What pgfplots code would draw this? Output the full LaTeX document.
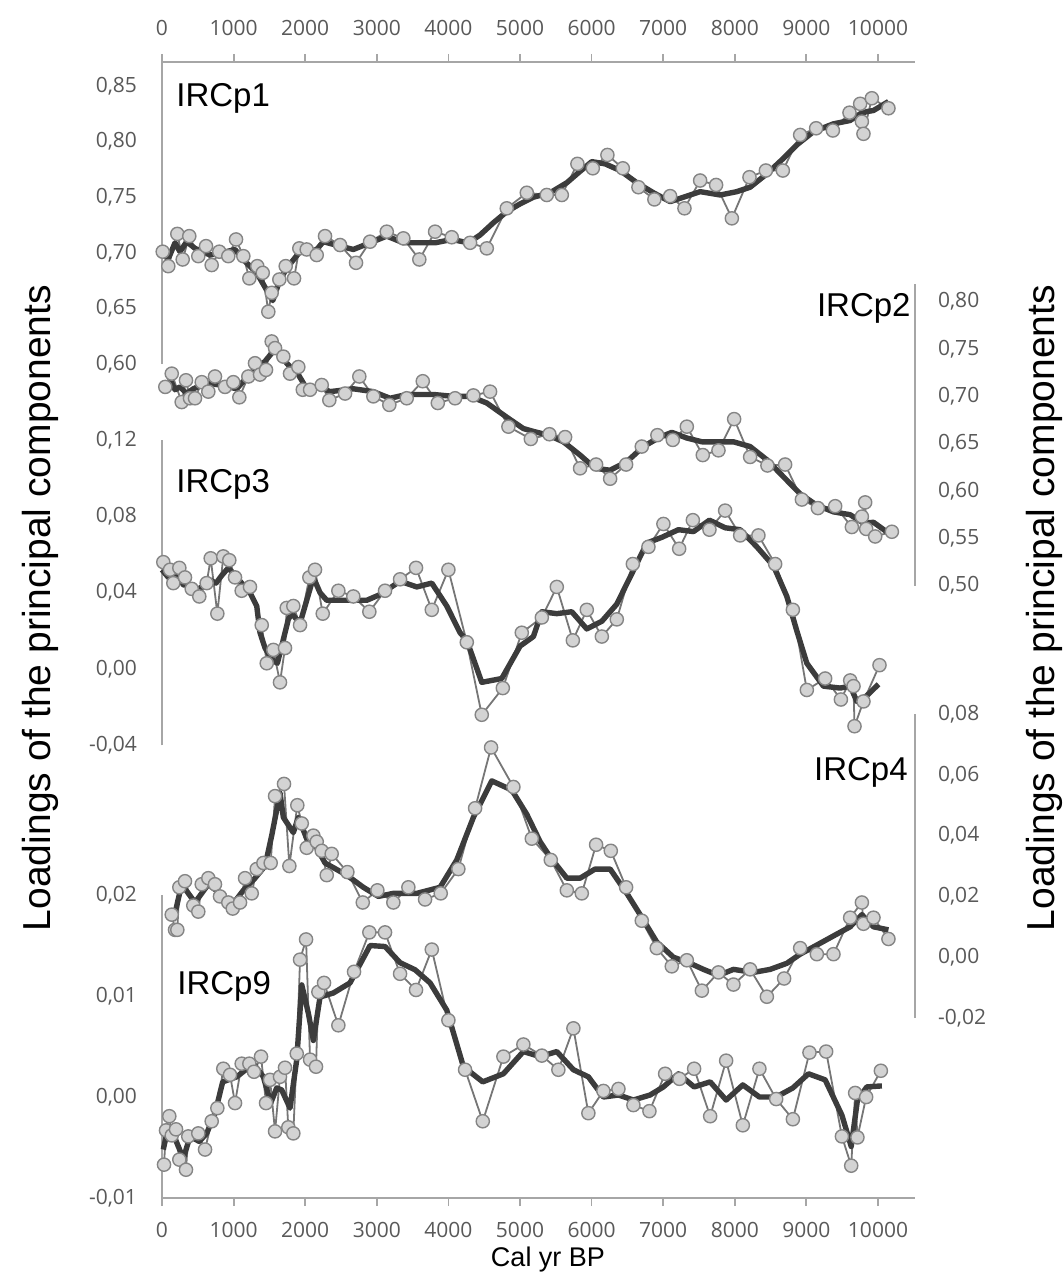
\documentclass[border=0pt]{standalone}
\usepackage{fontspec}
\setmainfont{Liberation Sans}
\newfontfamily\osans{Open Sans}
\usepackage{pgfplots}
\pgfplotsset{compat=1.18}
\definecolor{rawline}{HTML}{767676}
\definecolor{markfill}{HTML}{D3D3D3}
\definecolor{markdraw}{HTML}{858585}
\definecolor{smoothcol}{HTML}{3C3C3C}
\definecolor{axisgray}{HTML}{A6A6A6}
\definecolor{tickgray}{HTML}{595959}

\pgfplotsset{
  panel/.style={
    scale only axis, width=376.5pt, xmin=0, xmax=10517,
    anchor=south west, clip=false, scaled ticks=false,
    axis line style={axisgray, line width=0.9pt},
    tick label style={font=\osans\fontsize{10.5}{12}\selectfont, text=tickgray},
    /pgf/number format/assume math mode=true,
    y tick label style={/pgf/number format/fixed, /pgf/number format/fixed zerofill,
      /pgf/number format/precision=2, /pgf/number format/use comma},
    x tick label style={/pgf/number format/fixed, /pgf/number format/precision=0, /pgf/number format/1000 sep={}},
    ytick style={draw=none},
    xtick style={axisgray, line width=0.9pt},
    tick align=outside, major tick length=4pt,
  },
  rawser/.style={rawline, line width=0.9pt, mark=*, mark size=3.3pt,
    mark options={fill=markfill, draw=markdraw, line width=0.7pt}},
  smoothser/.style={smoothcol, line width=2.7pt, no markers, line join=round},
}

\begin{document}
\begin{tikzpicture}
\useasboundingbox (0,0) rectangle (532pt,-636.5pt);

% ---------- IRCp1 ----------
\begin{axis}[panel, at={(81pt,-182pt)}, height=151pt, ymin=0.60, ymax=0.8716,
  axis x line*=top, axis y line*=left,
  xtick={0,1000,2000,3000,4000,5000,6000,7000,8000,9000,10000},
  ytick={0.60,0.65,0.70,0.75,0.80,0.85},
  xticklabel shift=5.5pt, yticklabel shift=5pt]
\addplot[rawser] coordinates {(10,0.701)(88,0.688)(214,0.717)(289,0.694)(381,0.715)(507,0.697)(615,0.706)(694,0.689)(800,0.701)(926,0.697)(1034,0.712)(1136,0.697)(1220,0.677)(1331,0.688)(1407,0.682)(1485,0.647)(1532,0.664)(1639,0.676)(1728,0.688)(1844,0.677)(1918,0.704)(2021,0.703)(2161,0.698)(2277,0.715)(2487,0.707)(2710,0.691)(2906,0.710)(3139,0.719)(3371,0.713)(3594,0.694)(3814,0.719)(4047,0.714)(4303,0.709)(4536,0.704)(4815,0.740)(5095,0.754)(5374,0.752)(5584,0.752)(5802,0.780)(6017,0.776)(6221,0.788)(6436,0.776)(6654,0.759)(6877,0.748)(7097,0.751)(7297,0.740)(7516,0.765)(7739,0.761)(7959,0.731)(8205,0.768)(8434,0.774)(8671,0.774)(8913,0.806)(9136,0.812)(9370,0.810)(9602,0.826)(9751,0.834)(9775,0.818)(9797,0.807)(9914,0.839)(10146,0.830)};
\addplot[smoothser] coordinates {(10,0.701)(84,0.694)(182,0.709)(251,0.701)(345,0.710)(461,0.704)(671,0.698)(834,0.700)(1020,0.703)(1132,0.694)(1323,0.682)(1439,0.669)(1547,0.657)(1648,0.676)(1764,0.688)(1952,0.703)(2044,0.701)(2161,0.703)(2253,0.710)(2487,0.706)(2672,0.703)(2906,0.709)(3139,0.715)(3371,0.709)(3594,0.709)(3814,0.709)(4047,0.712)(4279,0.709)(4442,0.716)(4628,0.727)(4815,0.737)(5001,0.744)(5187,0.750)(5420,0.754)(5654,0.763)(5816,0.772)(6003,0.782)(6189,0.780)(6398,0.774)(6632,0.763)(6864,0.754)(7097,0.746)(7283,0.750)(7516,0.755)(7795,0.752)(8028,0.755)(8214,0.759)(8448,0.771)(8680,0.785)(8866,0.797)(9099,0.809)(9378,0.816)(9611,0.819)(9751,0.825)(9844,0.827)(9937,0.828)(10146,0.836)};
\end{axis}

% ---------- IRCp2 ----------
\begin{axis}[panel, at={(81pt,-292.85pt)}, height=150.85pt, ymin=0.50, ymax=0.8187,
  axis x line=none, axis y line*=right, xtick=\empty,
  ytick={0.50,0.55,0.60,0.65,0.70,0.75,0.80},
  yticklabel shift=4pt]
\addplot[rawser] coordinates {(46,0.710)(136,0.724)(275,0.694)(335,0.717)(391,0.698)(461,0.698)(555,0.715)(647,0.705)(740,0.721)(880,0.710)(996,0.715)(1080,0.699)(1206,0.721)(1299,0.735)(1369,0.723)(1453,0.728)(1532,0.758)(1579,0.751)(1695,0.742)(1788,0.724)(1904,0.731)(1966,0.707)(2068,0.707)(2231,0.712)(2337,0.696)(2557,0.703)(2756,0.721)(2952,0.700)(3175,0.691)(3418,0.698)(3642,0.716)(3852,0.693)(4093,0.698)(4349,0.701)(4582,0.705)(4838,0.668)(5151,0.655)(5411,0.660)(5630,0.657)(5839,0.624)(6063,0.628)(6259,0.613)(6482,0.628)(6701,0.647)(6919,0.659)(7134,0.654)(7330,0.668)(7553,0.638)(7772,0.643)(7991,0.676)(8214,0.636)(8456,0.627)(8703,0.628)(8937,0.591)(9160,0.582)(9402,0.584)(9635,0.562)(9775,0.573)(9821,0.588)(9835,0.560)(9961,0.552)(10194,0.557)};
\addplot[smoothser] coordinates {(46,0.710)(116,0.717)(182,0.707)(251,0.710)(345,0.703)(437,0.708)(624,0.714)(810,0.712)(1044,0.708)(1229,0.724)(1439,0.737)(1579,0.750)(1742,0.735)(1904,0.723)(2021,0.708)(2207,0.710)(2347,0.705)(2672,0.708)(2952,0.705)(3185,0.698)(3418,0.702)(3790,0.702)(4069,0.700)(4303,0.700)(4536,0.693)(4815,0.678)(5047,0.666)(5187,0.663)(5397,0.659)(5606,0.652)(5839,0.638)(6049,0.624)(6259,0.622)(6492,0.631)(6724,0.647)(6957,0.657)(7120,0.662)(7330,0.656)(7540,0.652)(7795,0.652)(7981,0.652)(8214,0.647)(8448,0.633)(8680,0.615)(8913,0.597)(9146,0.585)(9378,0.578)(9611,0.575)(9797,0.566)(9937,0.567)(10194,0.553)};
\end{axis}

% ---------- IRCp3 ----------
\begin{axis}[panel, at={(81pt,-372.65pt)}, height=152.65pt, ymin=-0.04, ymax=0.12,
  axis x line=none, axis y line*=left, xtick=\empty,
  ytick={-0.04,0,0.04,0.08,0.12},
  yticklabel shift=5pt]
\addplot[rawser] coordinates {(18,0.056)(112,0.052)(158,0.045)(242,0.053)(321,0.048)(415,0.042)(521,0.038)(624,0.045)(680,0.058)(773,0.029)(856,0.059)(940,0.057)(1020,0.048)(1113,0.041)(1229,0.043)(1393,0.023)(1463,0.003)(1555,0.010)(1648,-0.007)(1718,0.011)(1742,0.032)(1834,0.033)(1928,0.023)(2058,0.048)(2137,0.052)(2245,0.029)(2463,0.041)(2672,0.038)(2896,0.030)(3115,0.041)(3325,0.047)(3548,0.053)(3768,0.031)(4000,0.052)(4257,0.014)(4466,-0.024)(4760,-0.010)(5025,0.019)(5305,0.027)(5514,0.043)(5738,0.015)(5933,0.031)(6143,0.017)(6352,0.026)(6576,0.055)(6794,0.064)(7003,0.076)(7223,0.063)(7414,0.078)(7646,0.073)(7865,0.083)(8075,0.070)(8330,0.070)(8564,0.055)(8811,0.031)(9006,-0.011)(9262,-0.005)(9482,-0.016)(9612,-0.006)(9658,-0.009)(9672,-0.030)(9797,-0.017)(10021,0.002)};
\addplot[smoothser] coordinates {(0,0.052)(88,0.048)(158,0.047)(228,0.049)(298,0.044)(391,0.044)(461,0.041)(555,0.043)(647,0.047)(754,0.045)(834,0.049)(926,0.053)(1044,0.048)(1229,0.040)(1323,0.033)(1369,0.019)(1439,0.011)(1532,0.005)(1611,0.003)(1672,0.012)(1764,0.026)(1811,0.029)(1928,0.024)(2021,0.036)(2114,0.048)(2207,0.040)(2301,0.036)(2580,0.036)(2860,0.036)(3045,0.039)(3325,0.046)(3558,0.043)(3768,0.045)(3977,0.033)(4163,0.019)(4257,0.015)(4466,-0.007)(4745,-0.005)(5001,0.012)(5187,0.017)(5305,0.030)(5514,0.029)(5723,0.030)(5933,0.021)(6143,0.025)(6352,0.034)(6562,0.050)(6771,0.066)(6981,0.069)(7213,0.073)(7423,0.072)(7646,0.078)(7865,0.074)(8075,0.073)(8308,0.064)(8541,0.054)(8727,0.038)(8866,0.020)(9006,0.003)(9238,-0.009)(9471,-0.010)(9612,-0.009)(9705,-0.017)(9844,-0.014)(10007,-0.008)};
\end{axis}

% ---------- IRCp4 ----------
\begin{axis}[panel, at={(81pt,-509pt)}, height=152pt, ymin=-0.02, ymax=0.08,
  axis x line=none, axis y line*=right, xtick=\empty,
  ytick={-0.02,0,0.02,0.04,0.06,0.08},
  yticklabel shift=4pt]
\addplot[rawser] coordinates {(136,0.014)(182,0.009)(214,0.009)(242,0.023)(321,0.025)(437,0.017)(507,0.015)(555,0.024)(647,0.026)(740,0.024)(810,0.020)(926,0.018)(988,0.016)(1090,0.018)(1160,0.026)(1253,0.021)(1323,0.029)(1416,0.031)(1518,0.031)(1579,0.053)(1704,0.057)(1779,0.030)(1890,0.050)(1952,0.044)(2021,0.036)(2114,0.040)(2161,0.038)(2231,0.035)(2301,0.027)(2370,0.034)(2589,0.028)(2804,0.018)(3008,0.022)(3231,0.018)(3441,0.023)(3674,0.019)(3893,0.021)(4139,0.029)(4373,0.049)(4596,0.069)(4908,0.056)(5165,0.039)(5430,0.032)(5654,0.022)(5863,0.021)(6063,0.037)(6268,0.035)(6482,0.023)(6701,0.012)(6910,0.003)(7120,-0.003)(7330,-0.001)(7540,-0.011)(7772,-0.005)(7981,-0.009)(8214,-0.004)(8448,-0.013)(8689,-0.007)(8913,0.003)(9146,0.001)(9378,0.001)(9611,0.013)(9775,0.018)(9797,0.011)(9937,0.013)(10146,0.006)};
\addplot[smoothser] coordinates {(158,0.012)(275,0.024)(461,0.018)(647,0.024)(810,0.021)(974,0.017)(1136,0.022)(1299,0.026)(1439,0.030)(1532,0.040)(1648,0.054)(1695,0.046)(1834,0.041)(1904,0.046)(2021,0.039)(2137,0.037)(2277,0.031)(2580,0.027)(2812,0.023)(3022,0.020)(3231,0.021)(3558,0.021)(3884,0.023)(4117,0.032)(4349,0.046)(4606,0.058)(4885,0.055)(5095,0.047)(5281,0.038)(5420,0.033)(5654,0.026)(5839,0.026)(6049,0.029)(6259,0.029)(6492,0.021)(6678,0.014)(6910,0.005)(7143,0.000)(7376,-0.002)(7562,-0.004)(7772,-0.006)(7981,-0.004)(8261,-0.005)(8494,-0.004)(8727,-0.002)(8913,0.001)(9146,0.004)(9378,0.007)(9611,0.010)(9775,0.014)(9937,0.010)(10146,0.009)};
\end{axis}

% ---------- IRCp9 ----------
\begin{axis}[panel, at={(81pt,-599pt)}, height=151.5pt, ymin=-0.01, ymax=0.02,
  axis x line*=bottom, axis y line*=left,
  xtick={0,1000,2000,3000,4000,5000,6000,7000,8000,9000,10000},
  ytick={-0.01,0,0.01,0.02},
  xticklabel shift=4.75pt, yticklabel shift=5pt]
\addplot[rawser] coordinates {(28,-0.0067)(56,-0.0033)(102,-0.0019)(136,-0.0038)(196,-0.0032)(242,-0.0062)(335,-0.0072)(367,-0.0039)(507,-0.0036)(601,-0.0052)(694,-0.0024)(773,-0.0011)(856,0.0028)(950,0.0022)(1020,-0.0006)(1113,0.0033)(1220,0.0033)(1285,0.0025)(1383,0.0040)(1453,-0.0006)(1509,0.0017)(1579,-0.0034)(1648,0.0020)(1718,0.0029)(1764,-0.0030)(1834,-0.0036)(1882,0.0043)(1928,0.0136)(2012,0.0156)(2068,0.0037)(2151,0.0030)(2184,0.0104)(2263,0.0113)(2463,0.0071)(2682,0.0124)(2896,0.0163)(3115,0.0163)(3325,0.0122)(3548,0.0106)(3768,0.0146)(4000,0.0076)(4233,0.0027)(4480,-0.0024)(4768,0.0040)(5047,0.0052)(5305,0.0041)(5536,0.0027)(5746,0.0068)(5955,-0.0016)(6165,0.0006)(6375,0.0008)(6584,-0.0008)(6808,-0.0014)(7027,0.0023)(7227,0.0018)(7432,0.0028)(7656,-0.0019)(7879,0.0036)(8112,-0.0028)(8344,0.0028)(8578,-0.0002)(8811,-0.0022)(9043,0.0044)(9276,0.0045)(9496,-0.0039)(9626,-0.0068)(9681,0.0004)(9713,-0.0040)(9835,0.0000)(10040,0.0026)};
\addplot[smoothser] coordinates {(18,-0.0052)(88,-0.0029)(182,-0.0041)(298,-0.0061)(391,-0.0039)(521,-0.0044)(624,-0.0036)(740,-0.0016)(848,0.0015)(1044,0.0020)(1276,0.0033)(1416,0.0020)(1518,-0.0006)(1602,0.0009)(1672,0.0007)(1788,-0.0011)(1882,0.0037)(1952,0.0111)(2044,0.0083)(2114,0.0056)(2207,0.0099)(2393,0.0103)(2626,0.0113)(2906,0.0150)(3115,0.0149)(3325,0.0133)(3534,0.0126)(3744,0.0113)(3977,0.0086)(4210,0.0030)(4480,0.0015)(4768,0.0023)(5047,0.0045)(5281,0.0040)(5514,0.0045)(5746,0.0027)(5955,0.0020)(6165,0.0000)(6375,0.0002)(6584,-0.0003)(6817,0.0002)(7003,0.0010)(7213,0.0023)(7432,0.0010)(7656,0.0015)(7879,-0.0003)(8112,0.0012)(8344,0.0000)(8578,0.0000)(8811,0.0009)(9029,0.0023)(9262,0.0017)(9496,-0.0018)(9626,-0.0049)(9713,-0.0003)(9844,0.0010)(10054,0.0011)};
\end{axis}

% ---------- texts ----------
\begin{scope}[every node/.style={inner sep=0pt, font=\fontsize{16.5}{18}\selectfont}]
\node[anchor=base west] at (88pt,-53.5pt) {IRCp1};
\node[anchor=base east] at (455.5pt,-158pt) {IRCp2};
\node[anchor=base west] at (88pt,-246pt) {IRCp3};
\node[anchor=base east] at (454pt,-390pt) {IRCp4};
\node[anchor=base west] at (88.5pt,-497pt) {IRCp9};
\end{scope}
\node[inner sep=0pt, font=\fontsize{13.5}{15}\selectfont] at (274pt,-630pt) {Cal yr BP};
\node[inner sep=0pt, rotate=90, font=\fontsize{19.5}{22}\selectfont] at (20pt,-304pt) {Loadings of the principal components};
\node[inner sep=0pt, rotate=90, font=\fontsize{19.5}{22}\selectfont] at (522pt,-304pt) {Loadings of the principal components};
\end{tikzpicture}
\end{document}
